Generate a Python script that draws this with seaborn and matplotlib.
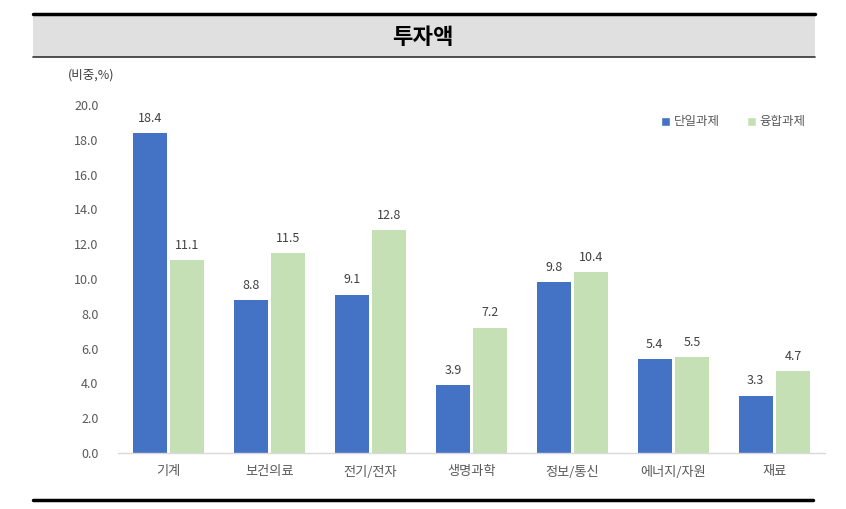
import matplotlib
matplotlib.use("Agg")
import matplotlib.pyplot as plt
import seaborn as sns
import pandas as pd
from matplotlib.patches import Rectangle
from matplotlib.lines import Line2D

categories = ["기계", "보건의료", "전기/전자", "생명과학", "정보/통신", "에너지/자원", "재료"]
series_names = ["단일과제", "융합과제"]
single = [18.4, 8.8, 9.1, 3.9, 9.8, 5.4, 3.3]
fusion = [11.1, 11.5, 12.8, 7.2, 10.4, 5.5, 4.7]
yticks = [0, 2, 4, 6, 8, 10, 12, 14, 16, 18, 20]
title = "투자액"
unit = "(비중,%)"

sns.set_theme(style="white")
plt.rcParams['font.family'] = ['Noto Sans CJK KR', 'DejaVu Sans']

df = pd.DataFrame({
    "category": categories * 2,
    "series": [series_names[0]] * len(categories) + [series_names[1]] * len(categories),
    "value": single + fusion,
})

W, H = 846, 509
fig = plt.figure(figsize=(W / 100, H / 100), dpi=100)
ax = fig.add_axes([118 / W, 1 - 453 / H, (825 - 118) / W, (453 - 105) / H])

palette = {series_names[0]: "#4472C4", series_names[1]: "#C5E0B4"}
sns.barplot(data=df, x="category", y="value", hue="series", palette=palette,
            order=categories, hue_order=series_names, width=0.74, gap=0.1,
            saturation=1, ax=ax, legend=False, linewidth=0)

for cont in ax.containers:
    ax.bar_label(cont, fmt="%.1f", padding=6, fontsize=9, color="#404040")

ax.set_ylim(0, 20)
ax.set_xlim(-0.5, 6.5)
ax.set_yticks(yticks)
ax.set_yticklabels([f"{v:.1f}" for v in yticks], fontsize=9, color="#595959")
ax.tick_params(axis="x", labelsize=9.5, colors="#595959", length=0, pad=9)
ax.tick_params(axis="y", length=0, pad=14)
ax.set_xlabel("")
ax.set_ylabel("")
for s in ["top", "right", "left"]:
    ax.spines[s].set_visible(False)
ax.spines["bottom"].set_color("#D9D9D9")
ax.spines["bottom"].set_linewidth(1)

# Title band
fig.patches.append(Rectangle((33 / W, 1 - 57 / H), (815 - 33) / W, (57 - 14) / H,
                             transform=fig.transFigure, facecolor="#E0E0E0",
                             edgecolor="none", zorder=0))
fig.lines.append(Line2D([33 / W, 815 / W], [1 - 14 / H] * 2, transform=fig.transFigure,
                        color="black", linewidth=2.5))
fig.lines.append(Line2D([33 / W, 815 / W], [1 - 57 / H] * 2, transform=fig.transFigure,
                        color="#333333", linewidth=1.2))
fig.lines.append(Line2D([33 / W, 813 / W], [1 - 500 / H] * 2, transform=fig.transFigure,
                        color="black", linewidth=2.5))
fig.text(423 / W, 1 - 37 / H, title, ha="center", va="center", fontsize=16,
         fontweight="bold", color="black")
fig.text(68 / W, 1 - 75 / H, unit, ha="left", va="center", fontsize=9, color="#404040")

# Legend
handles = [Rectangle((0, 0), 1, 1, facecolor=palette[n]) for n in series_names]
fig.legend(handles, series_names, loc="center left", bbox_to_anchor=(650 / W, 1 - 122 / H),
           ncol=2, frameon=False, fontsize=9, handlelength=0.7, handleheight=0.7,
           handletextpad=0.3, columnspacing=2.2, labelcolor="#595959")

fig.savefig("out.png", dpi=100)
